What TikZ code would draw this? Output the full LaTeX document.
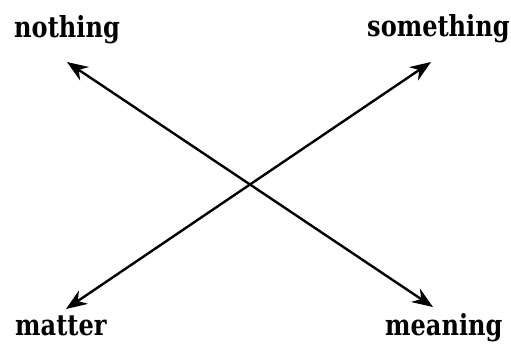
\documentclass[tikz,border=0pt]{standalone}
\usepackage{fontspec}
\setmainfont{DejaVu Serif}[BoldFont={DejaVu Serif Bold}]
\newfontfamily\labelfont{DejaVu Serif Bold}[FakeStretch=0.83]
\usetikzlibrary{arrows.meta}
\begin{document}
\begin{tikzpicture}[x=1pt,y=-1pt,
  word/.style={inner sep=0pt,anchor=base west,font=\labelfont\fontsize{29}{29}\selectfont},
  dbl/.style={{Stealth[length=21pt,width=16pt]}-{Stealth[length=21pt,width=16pt]},line width=2.4pt}]
\useasboundingbox (0,0) rectangle (511,343);
\node[word] (nothing) at (14,37) {nothing};
\node[word] (something) at (367,36) {something};
\node[word] (matter) at (15,335) {matter};
\node[word] (meaning) at (385,335) {meaning};
\coordinate (tl) at (67,62);
\coordinate (br) at (433,307);
\coordinate (tr) at (431,62);
\coordinate (bl) at (66,309);
\draw[dbl] (tl) -- (br);
\draw[dbl] (bl) -- (tr);
\end{tikzpicture}
\end{document}
